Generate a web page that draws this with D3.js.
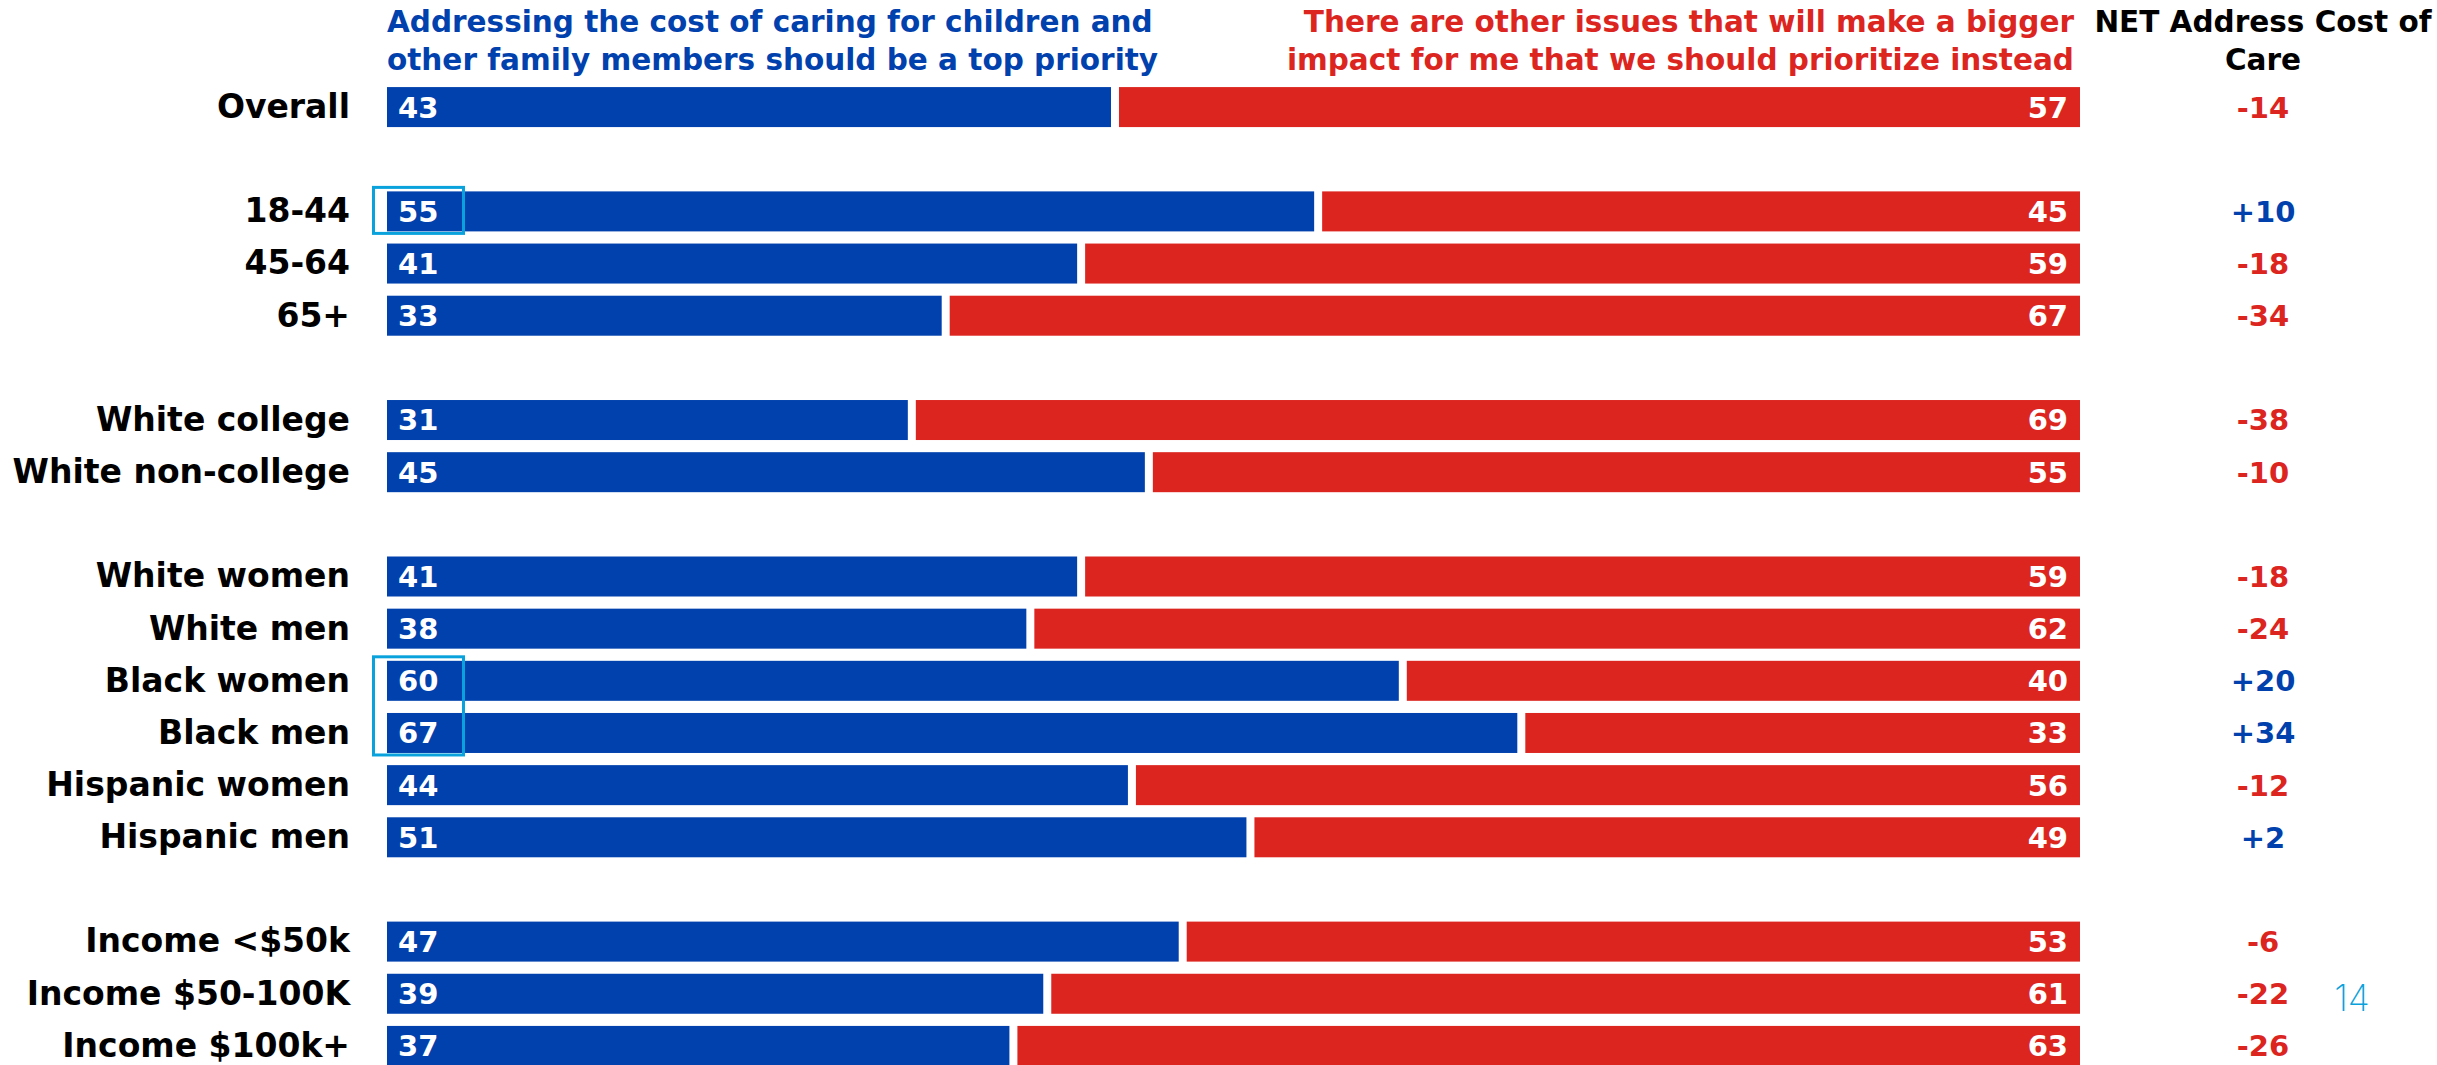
<!DOCTYPE html>
<html>
<head>
<meta charset="utf-8">
<script src="https://cdn.jsdelivr.net/npm/d3@7/dist/d3.min.js"></script>
<style>
  html, body { margin: 0; padding: 0; background: #fff; }
  svg { display: block; }
  text { font-family: "DejaVu Sans", Inter, sans-serif; }
</style>
</head>
<body>
<svg id="chart" width="2437" height="1065"></svg>
<script>
// ---- data ----
const categories = ["Overall","18-44","45-64","65+","White college","White non-college","White women","White men","Black women","Black men","Hispanic women","Hispanic men","Income <$50k","Income $50-100K","Income $100k+"];
const groupSizes = [1, 3, 2, 6, 3];
const topPriority = [43,55,41,33,31,45,41,38,60,67,44,51,47,39,37];
const otherIssues = [57,45,59,67,69,55,59,62,40,33,56,49,53,61,63];
const netValues = [-14,10,-18,-34,-38,-10,-18,-24,20,34,-12,2,-6,-22,-26];
const highlightGroups = [["18-44"], ["Black women","Black men"]];
const headerLeft = ["Addressing the cost of caring for children and", "other family members should be a top priority"];
const headerRight = ["There are other issues that will make a bigger", "impact for me that we should prioritize instead"];
const headerNet = ["NET Address Cost of", "Care"];
const pageNumber = "14";

// ---- style ----
const BLUE = "#0141ad", RED = "#dc251f", CYAN = "#0aa2dc";

const svg = d3.select("#chart");

// slots (categories with blank slots between groups)
const slots = [];
let k = 0;
groupSizes.forEach((n, gi) => {
  for (let i = 0; i < n; i++) slots.push(categories[k++]);
  if (gi < groupSizes.length - 1) slots.push("__gap" + gi);
});

const y = d3.scaleBand().domain(slots).range([81, 1072]).padding(0);
const x = d3.scaleLinear().domain([0, 100]).range([387, 2080]);
const barH = 40;
const gap = 4;
const cy = c => y(c) + y.bandwidth() / 2;

const rows = categories.map((c, i) => ({ c, a: topPriority[i], b: otherIssues[i], net: netValues[i] }));

const g = svg.append("g");

// blue bars
g.selectAll("rect.blue").data(rows).join("rect")
  .attr("class", "blue")
  .attr("x", x(0))
  .attr("y", d => cy(d.c) - barH / 2)
  .attr("width", d => x(d.a) - x(0) - gap)
  .attr("height", barH)
  .attr("fill", BLUE);

// red bars
g.selectAll("rect.red").data(rows).join("rect")
  .attr("class", "red")
  .attr("x", d => x(d.a) + gap)
  .attr("y", d => cy(d.c) - barH / 2)
  .attr("width", d => x(100) - x(d.a) - gap)
  .attr("height", barH)
  .attr("fill", RED);

// value labels
g.selectAll("text.va").data(rows).join("text")
  .attr("x", x(0) + 11)
  .attr("y", d => cy(d.c))
  .attr("dy", "0.36em")
  .attr("fill", "#fff")
  .attr("font-size", 29)
  .attr("font-weight", 700)
  .text(d => d.a);

g.selectAll("text.vb").data(rows).join("text")
  .attr("x", x(100) - 12)
  .attr("y", d => cy(d.c))
  .attr("dy", "0.36em")
  .attr("text-anchor", "end")
  .attr("fill", "#fff")
  .attr("font-size", 29)
  .attr("font-weight", 700)
  .text(d => d.b);

// category labels
g.selectAll("text.cat").data(rows).join("text")
  .attr("x", 350)
  .attr("y", d => cy(d.c))
  .attr("dy", "0.33em")
  .attr("text-anchor", "end")
  .attr("fill", "#000")
  .attr("font-size", 33)
  .attr("font-weight", 700)
  .text(d => d.c);

// net values
const netX = 2263;
g.selectAll("text.net").data(rows).join("text")
  .attr("x", netX)
  .attr("y", d => cy(d.c))
  .attr("dy", "0.36em")
  .attr("text-anchor", "middle")
  .attr("fill", d => d.net >= 0 ? BLUE : RED)
  .attr("font-size", 29)
  .attr("font-weight", 700)
  .text(d => (d.net > 0 ? "+" : "") + d.net);

// headers
const lineY = [32, 70];
const headSize = 29.5;
svg.append("g").selectAll("text").data(headerLeft).join("text")
  .attr("x", x(0)).attr("y", (d, i) => lineY[i])
  .attr("fill", BLUE).attr("font-size", headSize).attr("font-weight", 700)
  .text(d => d);
svg.append("g").selectAll("text").data(headerRight).join("text")
  .attr("x", 2074).attr("y", (d, i) => lineY[i])
  .attr("text-anchor", "end")
  .attr("fill", RED).attr("font-size", headSize).attr("font-weight", 700)
  .text(d => d);
svg.append("g").selectAll("text").data(headerNet).join("text")
  .attr("x", netX).attr("y", (d, i) => lineY[i])
  .attr("text-anchor", "middle")
  .attr("fill", "#000").attr("font-size", headSize).attr("font-weight", 700)
  .text(d => d);

// highlight boxes
highlightGroups.forEach(grp => {
  const top = cy(grp[0]) - barH / 2 - 4;
  const bot = cy(grp[grp.length - 1]) + barH / 2 + 2;
  svg.append("rect")
    .attr("x", 373.5).attr("y", top)
    .attr("width", 90).attr("height", bot - top)
    .attr("fill", "none").attr("stroke", CYAN).attr("stroke-width", 3);
});

// page number
svg.append("text")
  .attr("x", 2352).attr("y", 1011)
  .attr("text-anchor", "middle")
  .attr("fill", CYAN).attr("font-size", 36).attr("font-weight", 200)
  .style("font-family", "Inter, sans-serif")
  .text(pageNumber);
</script>
</body>
</html>
